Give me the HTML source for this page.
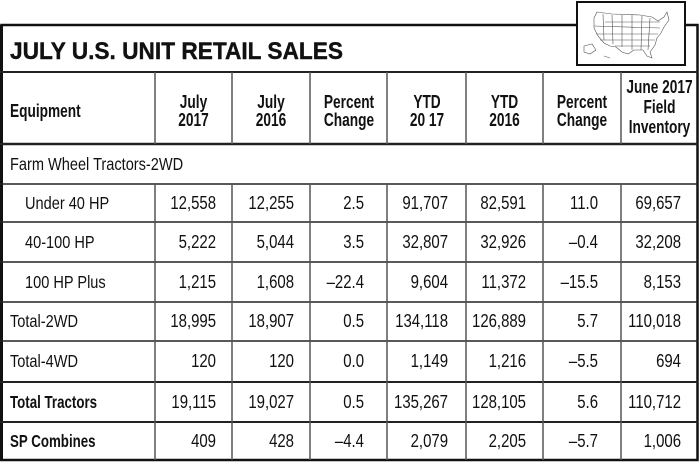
<!DOCTYPE html>
<html><head><meta charset="utf-8"><style>
html,body{margin:0;padding:0;background:#fff;width:700px;height:462px;overflow:hidden}
svg{display:block}
text{font-family:"Liberation Sans",Arial,sans-serif;fill:#111}
.b{font-size:18px}
.bb{font-size:18px;font-weight:bold}
.h{font-size:18.5px;font-weight:bold}
</style></head><body>
<svg width="700" height="462" viewBox="0 0 700 462" xmlns="http://www.w3.org/2000/svg">
<rect x="0" y="0" width="700" height="462" fill="#fff"/>
<rect x="1.5" y="25" width="696" height="435" fill="none" stroke="#111" stroke-width="2.5"/>
<rect x="0" y="25" width="3" height="436" fill="#111"/>
<g stroke="#222" stroke-width="2">
<line x1="0" y1="72" x2="698" y2="72"/>
<line x1="0" y1="144" x2="698" y2="144" stroke-width="2.5"/>
<line x1="0" y1="184" x2="698" y2="184" stroke-width="1.5"/>
<line x1="0" y1="222" x2="698" y2="222" stroke-width="1.5"/>
<line x1="0" y1="262" x2="698" y2="262" stroke-width="1.5"/>
<line x1="0" y1="302" x2="698" y2="302" stroke-width="1.5"/>
<line x1="0" y1="341" x2="698" y2="341" stroke-width="1.5"/>
<line x1="0" y1="382" x2="698" y2="382"/>
<line x1="0" y1="422" x2="698" y2="422"/>
</g>
<g stroke="#555" stroke-width="1.5">
<line x1="155" y1="72" x2="155" y2="144"/><line x1="155" y1="184" x2="155" y2="460"/>
<line x1="232" y1="72" x2="232" y2="144"/><line x1="232" y1="184" x2="232" y2="460"/>
<line x1="310" y1="72" x2="310" y2="144"/><line x1="310" y1="184" x2="310" y2="460"/>
<line x1="387" y1="72" x2="387" y2="144"/><line x1="387" y1="184" x2="387" y2="460"/>
<line x1="466" y1="72" x2="466" y2="144"/><line x1="466" y1="184" x2="466" y2="460"/>
<line x1="543" y1="72" x2="543" y2="144"/><line x1="543" y1="184" x2="543" y2="460"/>
<line x1="621" y1="72" x2="621" y2="144"/><line x1="621" y1="184" x2="621" y2="460"/>
</g>
<rect x="577" y="2" width="108" height="63" fill="#fff" stroke="#111" stroke-width="2"/>
<g fill="none" stroke="#555" stroke-width="0.6">
<path d="M597 12 L612 14 L640 15 L652 17 L658 21 L664 17 L667 12 L669 20 L664 27 L661 33 L657 38 L655 45 L650 52 L652 58 L647 56 L643 50 L634 50 L628 54 L622 52 L616 47 L610 46 L604 43 L598 36 L594 28 L594 18 Z"/>
<path d="M603 14 L604 40 M612 15 L613 44 M622 15 L622 47 M632 15 L632 50 M642 16 L641 50 M650 18 L648 50 M594 26 L660 28 M596 34 L658 34 M600 40 L655 40 M605 22 L660 22 M615 46 L650 46"/>
<path d="M584 46 L592 44 L596 50 L590 54 L584 52 Z M604 56 L610 58"/>
</g>
<text x="10" y="59" style="font-size:24px;font-weight:bold;stroke:#111;stroke-width:0.4" textLength="333" lengthAdjust="spacingAndGlyphs">JULY U.S. UNIT RETAIL SALES</text>
<g text-anchor="middle">
<text class="h" text-anchor="start" transform="translate(10,117) scale(0.74,1)">Equipment</text>
<text class="h" transform="translate(193.5,108) scale(0.74,1)">July</text>
<text class="h" transform="translate(193.5,126) scale(0.74,1)">2017</text>
<text class="h" transform="translate(271,108) scale(0.74,1)">July</text>
<text class="h" transform="translate(271,126) scale(0.74,1)">2016</text>
<text class="h" transform="translate(349,108) scale(0.74,1)">Percent</text>
<text class="h" transform="translate(349,126) scale(0.74,1)">Change</text>
<text class="h" transform="translate(427,108) scale(0.74,1)">YTD</text>
<text class="h" transform="translate(427,126) scale(0.74,1)">20 17</text>
<text class="h" transform="translate(504.5,108) scale(0.74,1)">YTD</text>
<text class="h" transform="translate(504.5,126) scale(0.74,1)">2016</text>
<text class="h" transform="translate(582,108) scale(0.74,1)">Percent</text>
<text class="h" transform="translate(582,126) scale(0.74,1)">Change</text>
<text class="h" transform="translate(659.5,93) scale(0.74,1)">June 2017</text>
<text class="h" transform="translate(659.5,113) scale(0.74,1)">Field</text>
<text class="h" transform="translate(659.5,133) scale(0.74,1)">Inventory</text>
</g>
<text class="b" transform="translate(10,170) scale(0.81,1)">Farm Wheel Tractors-2WD</text>
<text class="b" transform="translate(25,209) scale(0.81,1)">Under 40 HP</text>
<text class="b" transform="translate(25,248) scale(0.81,1)">40-100 HP</text>
<text class="b" transform="translate(25,288) scale(0.81,1)">100 HP Plus</text>
<text class="b" transform="translate(10,327) scale(0.81,1)">Total-2WD</text>
<text class="b" transform="translate(10,367) scale(0.81,1)">Total-4WD</text>
<text class="bb" transform="translate(10,408) scale(0.74,1)">Total Tractors</text>
<text class="bb" transform="translate(10,447) scale(0.74,1)">SP Combines</text>
<g text-anchor="end">
<text class="b" text-anchor="end" transform="translate(216,209) scale(0.83,1)">12,558</text>
<text class="b" text-anchor="end" transform="translate(294,209) scale(0.83,1)">12,255</text>
<text class="b" text-anchor="end" transform="translate(364,209) scale(0.83,1)">2.5</text>
<text class="b" text-anchor="end" transform="translate(448,209) scale(0.83,1)">91,707</text>
<text class="b" text-anchor="end" transform="translate(526,209) scale(0.83,1)">82,591</text>
<text class="b" text-anchor="end" transform="translate(598,209) scale(0.83,1)">11.0</text>
<text class="b" text-anchor="end" transform="translate(681,209) scale(0.83,1)">69,657</text>

<text class="b" text-anchor="end" transform="translate(216,248) scale(0.83,1)">5,222</text>
<text class="b" text-anchor="end" transform="translate(294,248) scale(0.83,1)">5,044</text>
<text class="b" text-anchor="end" transform="translate(364,248) scale(0.83,1)">3.5</text>
<text class="b" text-anchor="end" transform="translate(448,248) scale(0.83,1)">32,807</text>
<text class="b" text-anchor="end" transform="translate(526,248) scale(0.83,1)">32,926</text>
<text class="b" text-anchor="end" transform="translate(598,248) scale(0.83,1)">–0.4</text>
<text class="b" text-anchor="end" transform="translate(681,248) scale(0.83,1)">32,208</text>

<text class="b" text-anchor="end" transform="translate(216,288) scale(0.83,1)">1,215</text>
<text class="b" text-anchor="end" transform="translate(294,288) scale(0.83,1)">1,608</text>
<text class="b" text-anchor="end" transform="translate(364,288) scale(0.83,1)">–22.4</text>
<text class="b" text-anchor="end" transform="translate(448,288) scale(0.83,1)">9,604</text>
<text class="b" text-anchor="end" transform="translate(526,288) scale(0.83,1)">11,372</text>
<text class="b" text-anchor="end" transform="translate(598,288) scale(0.83,1)">–15.5</text>
<text class="b" text-anchor="end" transform="translate(681,288) scale(0.83,1)">8,153</text>

<text class="b" text-anchor="end" transform="translate(216,327) scale(0.83,1)">18,995</text>
<text class="b" text-anchor="end" transform="translate(294,327) scale(0.83,1)">18,907</text>
<text class="b" text-anchor="end" transform="translate(364,327) scale(0.83,1)">0.5</text>
<text class="b" text-anchor="end" transform="translate(448,327) scale(0.83,1)">134,118</text>
<text class="b" text-anchor="end" transform="translate(526,327) scale(0.83,1)">126,889</text>
<text class="b" text-anchor="end" transform="translate(598,327) scale(0.83,1)">5.7</text>
<text class="b" text-anchor="end" transform="translate(681,327) scale(0.83,1)">110,018</text>

<text class="b" text-anchor="end" transform="translate(216,367) scale(0.83,1)">120</text>
<text class="b" text-anchor="end" transform="translate(294,367) scale(0.83,1)">120</text>
<text class="b" text-anchor="end" transform="translate(364,367) scale(0.83,1)">0.0</text>
<text class="b" text-anchor="end" transform="translate(448,367) scale(0.83,1)">1,149</text>
<text class="b" text-anchor="end" transform="translate(526,367) scale(0.83,1)">1,216</text>
<text class="b" text-anchor="end" transform="translate(598,367) scale(0.83,1)">–5.5</text>
<text class="b" text-anchor="end" transform="translate(681,367) scale(0.83,1)">694</text>

<text class="b" text-anchor="end" transform="translate(216,408) scale(0.83,1)">19,115</text>
<text class="b" text-anchor="end" transform="translate(294,408) scale(0.83,1)">19,027</text>
<text class="b" text-anchor="end" transform="translate(364,408) scale(0.83,1)">0.5</text>
<text class="b" text-anchor="end" transform="translate(448,408) scale(0.83,1)">135,267</text>
<text class="b" text-anchor="end" transform="translate(526,408) scale(0.83,1)">128,105</text>
<text class="b" text-anchor="end" transform="translate(598,408) scale(0.83,1)">5.6</text>
<text class="b" text-anchor="end" transform="translate(681,408) scale(0.83,1)">110,712</text>

<text class="b" text-anchor="end" transform="translate(216,447) scale(0.83,1)">409</text>
<text class="b" text-anchor="end" transform="translate(294,447) scale(0.83,1)">428</text>
<text class="b" text-anchor="end" transform="translate(364,447) scale(0.83,1)">–4.4</text>
<text class="b" text-anchor="end" transform="translate(448,447) scale(0.83,1)">2,079</text>
<text class="b" text-anchor="end" transform="translate(526,447) scale(0.83,1)">2,205</text>
<text class="b" text-anchor="end" transform="translate(598,447) scale(0.83,1)">–5.7</text>
<text class="b" text-anchor="end" transform="translate(681,447) scale(0.83,1)">1,006</text>
</g>
</svg>
</body></html>
